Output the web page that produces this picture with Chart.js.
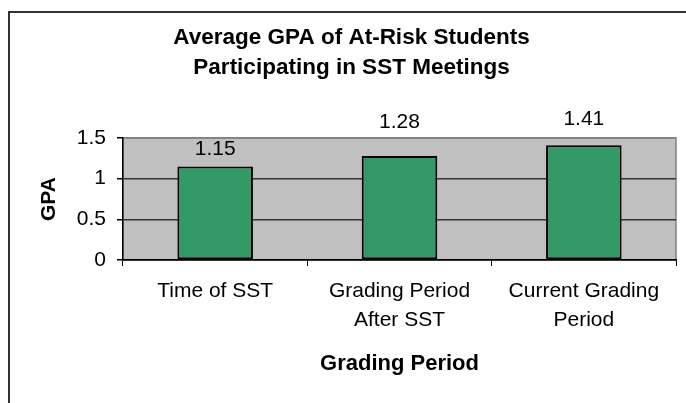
<!DOCTYPE html>
<html>
<head>
<meta charset="utf-8">
<script src="https://cdn.jsdelivr.net/npm/chart.js@4/dist/chart.umd.min.js"></script>
<style>
    html, body { margin: 0; padding: 0; background: #fff; overflow: hidden; }
    #gpaChart { display: block; width: 704px; height: 403px; }
</style>
</head>
<body>
<canvas id="gpaChart" width="704" height="403"></canvas>
<script>
// Chart data
const categories = [['Time of SST'], ['Grading Period', 'After SST'], ['Current Grading', 'Period']];
const gpaValues = [1.15, 1.28, 1.41];
const yTicks = [0, 0.5, 1, 1.5];

const FONT = "'Liberation Sans', Arial, sans-serif";

// Excel-style frame and grey plot area
const plotBackground = {
    id: 'plotBackground',
    beforeDraw(chart) {
        const {ctx, chartArea: a} = chart;
        ctx.save();
        ctx.strokeStyle = '#333';
        ctx.lineWidth = 2;
        ctx.strokeRect(9, 12, 760, 460);
        ctx.fillStyle = '#c0c0c0';
        ctx.fillRect(a.left, a.top, a.right - a.left, a.bottom - a.top);
        ctx.strokeStyle = '#808080';
        ctx.lineWidth = 1.5;
        ctx.strokeRect(a.left, a.top, a.right - a.left, a.bottom - a.top);
        ctx.restore();
    }
};

// value labels above the bars
const valueLabels = {
    id: 'valueLabels',
    afterDatasetsDraw(chart, args, opts) {
        const {ctx} = chart;
        const meta = chart.getDatasetMeta(0);
        ctx.save();
        ctx.font = '21px ' + FONT;
        ctx.fillStyle = '#000';
        ctx.textAlign = 'center';
        ctx.textBaseline = 'alphabetic';
        meta.data.forEach((bar, i) => {
            const lift = opts.raise[i] || 12;
            ctx.fillText(String(chart.data.datasets[0].data[i]), bar.x, bar.y - lift);
        });
        ctx.restore();
    }
};

document.addEventListener('DOMContentLoaded', () => {
    const ctx = document.getElementById('gpaChart');
    new Chart(ctx, {
        type: 'bar',
        data: {
            labels: categories,
            datasets: [{
                label: 'GPA',
                data: gpaValues,
                backgroundColor: '#339966',
                borderColor: '#000',
                borderWidth: 2,
                borderSkipped: false,
                categoryPercentage: 1,
                barPercentage: 0.41
            }]
        },
        options: {
            responsive: false,
            animation: false,
            layout: { padding: { left: 27, right: 28, top: 0, bottom: 0 } },
            plugins: {
                legend: { display: false },
                tooltip: { enabled: false },
                title: {
                    display: true,
                    text: ['Average GPA of At-Risk Students', 'Participating in SST Meetings'],
                    color: '#000',
                    font: { family: FONT, size: 22.5, weight: 'bold', lineHeight: '30px' },
                    padding: { top: 22.5, bottom: 55.5 }
                },
                valueLabels: { raise: [11.7, 28, 20.5] }
            },
            scales: {
                x: {
                    afterFit(scale) { scale.height = 143; },
                    grid: {
                        display: true,
                        drawOnChartArea: false,
                        drawTicks: true,
                        tickLength: 6,
                        color: '#000'
                    },
                    border: { display: true, color: '#000', width: 1.5 },
                    ticks: {
                        color: '#000',
                        font: { family: FONT, size: 21, lineHeight: '29px' },
                        padding: 11,
                        maxRotation: 0,
                        autoSkip: false
                    },
                    title: {
                        display: true,
                        text: 'Grading Period',
                        color: '#000',
                        font: { family: FONT, size: 22, weight: 'bold' },
                        padding: { top: 0, bottom: 25.8 }
                    }
                },
                y: {
                    min: yTicks[0],
                    max: yTicks[yTicks.length - 1],
                    afterFit(scale) { scale.width = 96; },
                    afterBuildTicks(scale) { scale.ticks = yTicks.map(v => ({ value: v })); },
                    grid: {
                        color: ctx => (ctx.tick && ctx.tick.value === 1.5) ? '#808080' : '#333',
                        lineWidth: 1.5,
                        tickLength: 6,
                        tickColor: '#000'
                    },
                    border: { display: true, color: '#000', width: 1.5 },
                    ticks: {
                        color: '#000',
                        font: { family: FONT, size: 21 },
                        padding: 11,
                        callback: v => String(v)
                    },
                    title: {
                        display: true,
                        text: 'GPA',
                        color: '#000',
                        font: { family: FONT, size: 21, weight: 'bold' },
                        padding: { top: 9.4, bottom: 0 }
                    }
                }
            }
        },
        plugins: [plotBackground, valueLabels]
    });
});
</script>
</body>
</html>
